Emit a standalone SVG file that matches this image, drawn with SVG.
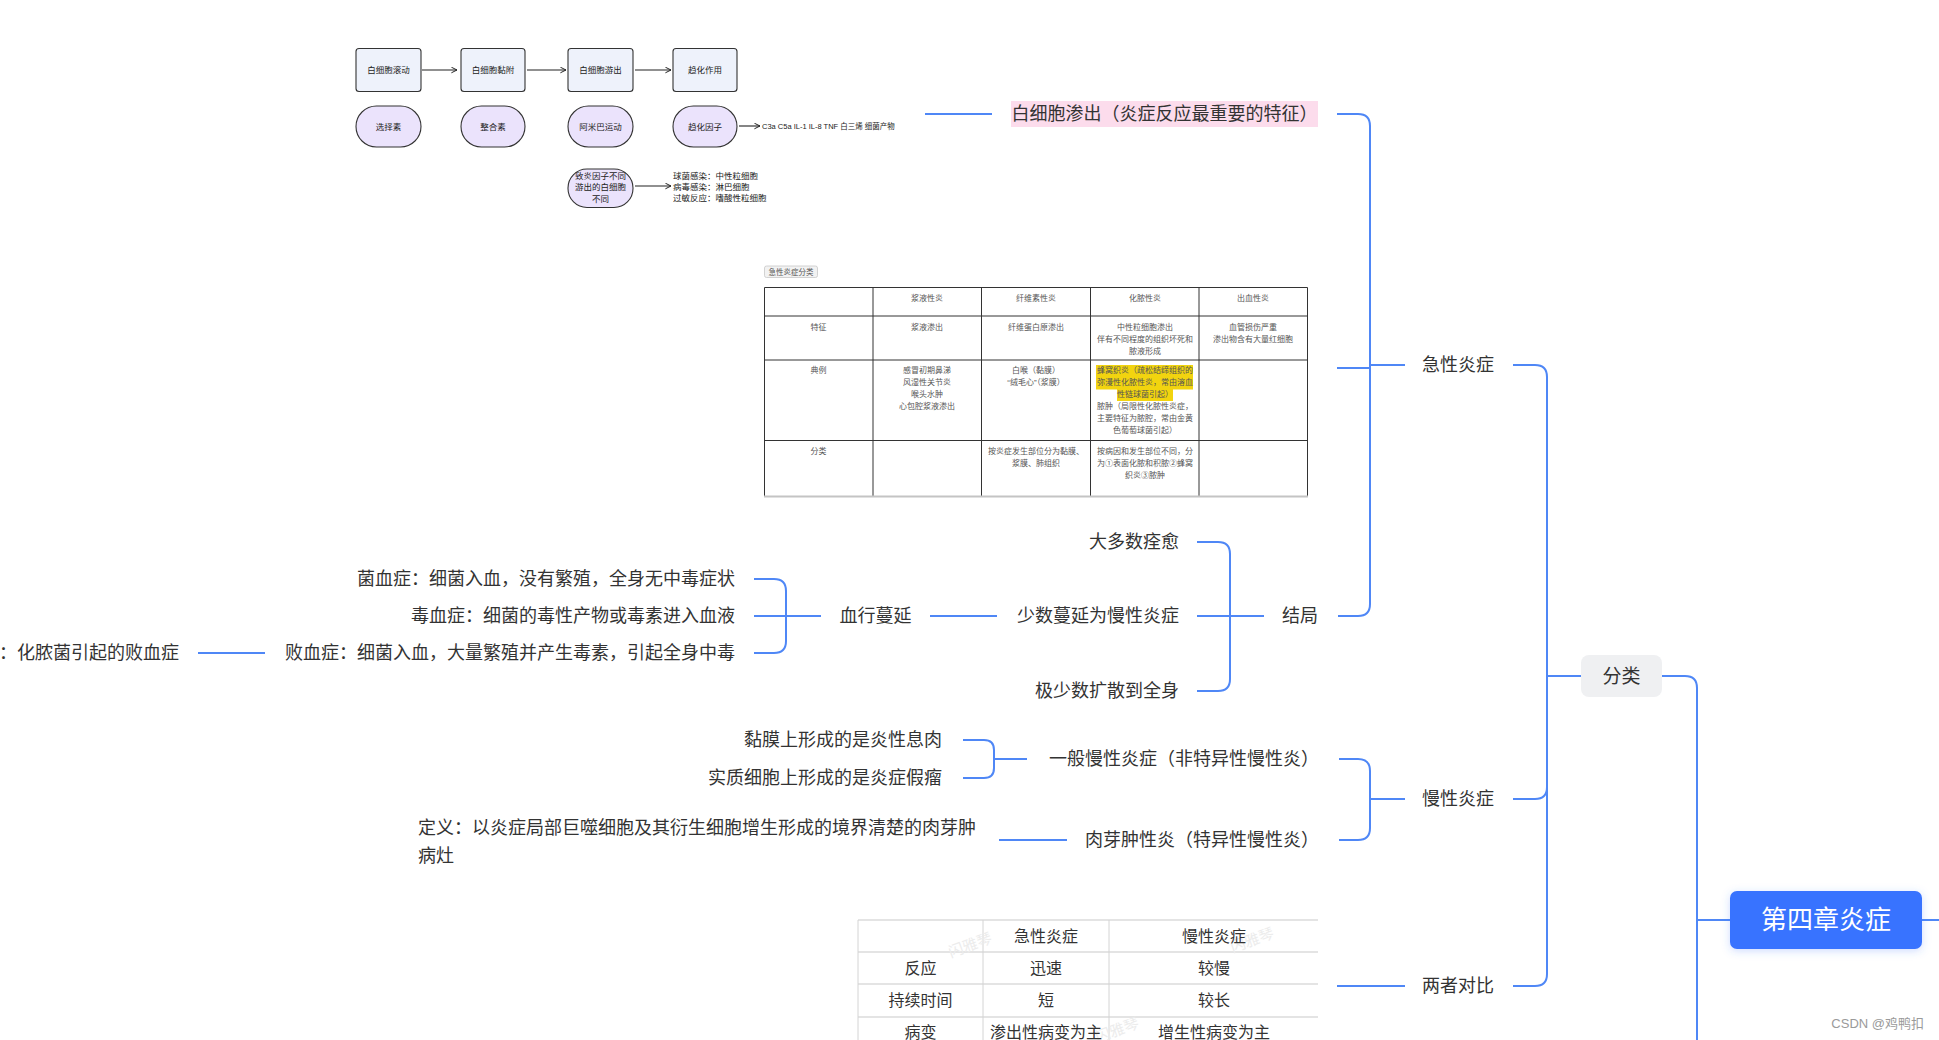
<svg xmlns="http://www.w3.org/2000/svg" width="1939" height="1040" viewBox="0 0 1939 1040">
<defs>
<style>
text{font-family:"Liberation Sans","Noto Sans CJK SC",sans-serif;dominant-baseline:central}
.t{font-size:18px;fill:#333}
.s{font-size:8.5px;fill:#222}
.tb{font-size:8px;fill:#555}
.t2{font-size:16px;fill:#333;text-anchor:middle}
.c{text-anchor:middle}
.e{text-anchor:end}
.ln{fill:none;stroke:#4f87f6;stroke-width:2}
.fl{fill:none;stroke:#222;stroke-width:1.1}
.box{fill:#eef2fb;stroke:#333;stroke-width:1.1}
.st{fill:#ebe3fc;stroke:#333;stroke-width:1.1}
.g1{stroke:#333;stroke-width:1}
.g2{stroke:#dcdcdc;stroke-width:1.5}
</style>
<marker id="arr" viewBox="0 0 10 10" refX="9" refY="5" markerWidth="7" markerHeight="7" orient="auto" markerUnits="userSpaceOnUse">
<path d="M1,1 L9,5 L1,9" fill="none" stroke="#222" stroke-width="1.4"/>
</marker>
<filter id="sh" x="-20%" y="-40%" width="140%" height="180%">
<feDropShadow dx="0" dy="2" stdDeviation="4" flood-color="#3873ff" flood-opacity="0.25"/>
</filter>
</defs>
<rect width="1939" height="1040" fill="#ffffff"/>

<g id="connectors">
<path class="ln" d="M1582,676 H1547 V377 Q1547,365 1535,365 H1513"/>
<path class="ln" d="M1582,676 H1547 V787 Q1547,799 1535,799 H1513"/>
<path class="ln" d="M1582,676 H1547 V974 Q1547,986 1535,986 H1513"/>
<path class="ln" d="M1662,676 H1685 Q1697,676 1697,688 V1040"/>
<path class="ln" d="M1697,920 H1730"/>
<path class="ln" d="M1922,920 H1939"/>
<path class="ln" d="M1405,365 H1370 V126 Q1370,114 1358,114 H1337"/>
<path class="ln" d="M1370,368 H1337"/>
<path class="ln" d="M1405,365 H1370 V604 Q1370,616 1358,616 H1338"/>
<path class="ln" d="M1405,799 H1370 V771 Q1370,759 1358,759 H1339"/>
<path class="ln" d="M1405,799 H1370 V828 Q1370,840 1358,840 H1339"/>
<path class="ln" d="M1405,986 H1337"/>
<path class="ln" d="M992,114 H925"/>
<path class="ln" d="M1264,616 H1230 V554 Q1230,542 1218,542 H1197"/>
<path class="ln" d="M1264,616 H1197"/>
<path class="ln" d="M1264,616 H1230 V679 Q1230,691 1218,691 H1197"/>
<path class="ln" d="M997,616 H930"/>
<path class="ln" d="M821,616 H786 V591 Q786,579 774,579 H754"/>
<path class="ln" d="M821,616 H754"/>
<path class="ln" d="M821,616 H786 V641 Q786,653 774,653 H754"/>
<path class="ln" d="M265,653 H198"/>
<path class="ln" d="M1027,759 H994 V750 Q994,740 984,740 H963"/>
<path class="ln" d="M1027,759 H994 V768 Q994,778 984,778 H963"/>
<path class="ln" d="M1067,840 H999"/>
</g>

<g id="root">
<rect x="1730" y="891" width="192" height="58" rx="7" fill="#3873ff" filter="url(#sh)"/>
<text x="1826" y="920" class="c" style="font-size:26px;fill:#fff">第四章炎症</text>
</g>
<g id="fenlei">
<rect x="1581" y="655" width="81" height="42" rx="8" fill="#eff0f2"/>
<text x="1621.5" y="676" class="c" style="font-size:19px;fill:#333">分类</text>
</g>
<g id="jixing"><text x="1458" y="365" class="t c">急性炎症</text></g>
<g id="manxing"><text x="1458" y="799" class="t c">慢性炎症</text></g>
<g id="duibi"><text x="1458" y="986" class="t c">两者对比</text></g>

<g id="shenchu">
<rect x="1011" y="101" width="307" height="26" fill="#fcdcec"/>
<text x="1164.5" y="114" class="t c">白细胞渗出（炎症反应最重要的特征）</text>
</g>

<g id="jieju"><text x="1300" y="616" class="t c">结局</text></g>
<g id="quyu"><text x="1179" y="542" class="t e">大多数痊愈</text></g>
<g id="manyan"><text x="1179" y="616" class="t e">少数蔓延为慢性炎症</text></g>
<g id="kuosan"><text x="1179" y="691" class="t e">极少数扩散到全身</text></g>
<g id="xuexing"><text x="875.5" y="616" class="t c">血行蔓延</text></g>
<g id="junxue"><text x="735" y="579" class="t e">菌血症：细菌入血，没有繁殖，全身无中毒症状</text></g>
<g id="duxue"><text x="735" y="616" class="t e">毒血症：细菌的毒性产物或毒素进入血液</text></g>
<g id="baixue"><text x="735" y="653" class="t e">败血症：细菌入血，大量繁殖并产生毒素，引起全身中毒</text></g>
<g id="nongdu"><text x="179" y="653" class="t e">：化脓菌引起的败血症</text></g>

<g id="yiban"><text x="1319" y="759" class="t e">一般慢性炎症（非特异性慢性炎）</text></g>
<g id="ximou"><text x="942" y="740" class="t e">黏膜上形成的是炎性息肉</text></g>
<g id="jialiu"><text x="942" y="778" class="t e">实质细胞上形成的是炎症假瘤</text></g>
<g id="rouya"><text x="1319" y="840" class="t e">肉芽肿性炎（特异性慢性炎）</text></g>
<g id="dingyi">
<text x="418" y="828" class="t">定义：以炎症局部巨噬细胞及其衍生细胞增生形成的境界清楚的肉芽肿</text>
<text x="418" y="856" class="t">病灶</text>
</g>

<g id="flowchart">
<rect class="box" x="356" y="48.5" width="65" height="43" rx="3"/>
<rect class="box" x="461" y="48.5" width="64" height="43" rx="3"/>
<rect class="box" x="568" y="48.5" width="65" height="43" rx="3"/>
<rect class="box" x="673" y="48.5" width="64" height="43" rx="3"/>
<text class="s c" x="388.5" y="70">白细胞滚动</text>
<text class="s c" x="493" y="70">白细胞黏附</text>
<text class="s c" x="600.5" y="70">白细胞游出</text>
<text class="s c" x="705" y="70">趋化作用</text>
<rect class="st" x="356" y="106" width="65" height="41" rx="20.5"/>
<rect class="st" x="461" y="106" width="64" height="41" rx="20.5"/>
<rect class="st" x="568" y="106" width="65" height="41" rx="20.5"/>
<rect class="st" x="673" y="106" width="64" height="41" rx="20.5"/>
<text class="s c" x="388.5" y="126.5">选择素</text>
<text class="s c" x="493" y="126.5">整合素</text>
<text class="s c" x="600.5" y="126.5">阿米巴运动</text>
<text class="s c" x="705" y="126.5">趋化因子</text>
<rect class="st" x="568" y="169" width="65" height="38.5" rx="19"/>
<text class="s c" x="600.5" y="175.5">致炎因子不同</text>
<text class="s c" x="600.5" y="187">游出的白细胞</text>
<text class="s c" x="600.5" y="199">不同</text>
<path class="fl" d="M422,70 H457" marker-end="url(#arr)"/>
<path class="fl" d="M527,70 H566" marker-end="url(#arr)"/>
<path class="fl" d="M635,70 H671" marker-end="url(#arr)"/>
<path class="fl" d="M739,126 H760" marker-end="url(#arr)"/>
<path class="fl" d="M635,186 H671" marker-end="url(#arr)"/>
<text class="s" x="762" y="126.5" style="font-size:7.5px">C3a C5a IL-1 IL-8 TNF 白三烯 细菌产物</text>
<text class="s" x="673" y="175.5">球菌感染：中性粒细胞</text>
<text class="s" x="673" y="186.5">病毒感染：淋巴细胞</text>
<text class="s" x="673" y="197.5">过敏反应：嗜酸性粒细胞</text>
</g>

<g id="table1">
<rect x="764.5" y="266" width="53" height="11.5" rx="2" fill="#f2f2f2" stroke="#c8c8c8" stroke-width="0.8"/>
<text x="791" y="272" class="c" style="font-size:7.5px;fill:#555">急性炎症分类</text>
<rect x="1096" y="365" width="97" height="24.5" fill="#f2d40f"/>
<rect x="1117" y="389" width="56" height="12" fill="#f2d40f"/>
<path class="g1" d="M764.5,287.5 H1307.5 M764.5,287.5 V496 M1307.5,287.5 V496 M764.5,316 H1307.5 M764.5,360 H1307.5 M764.5,440.5 H1307.5 M873,287.5 V496 M981.5,287.5 V496 M1090.5,287.5 V496 M1199,287.5 V496"/>
<path d="M764,496.5 H1308" stroke="#c4c4c4" stroke-width="2"/>
<g class="tb c">
<text x="927" y="298.5">浆液性炎</text>
<text x="1036" y="298.5">纤维素性炎</text>
<text x="1145" y="298.5">化脓性炎</text>
<text x="1253" y="298.5">出血性炎</text>
<text x="818.5" y="327.7">特征</text>
<text x="818.5" y="370.7">典例</text>
<text x="818.5" y="451.7">分类</text>
<text x="927" y="327.7">浆液渗出</text>
<text x="1036" y="327.7">纤维蛋白原渗出</text>
<text x="1145" y="327.7">中性粒细胞渗出</text>
<text x="1145" y="339.5">伴有不同程度的组织坏死和</text>
<text x="1145" y="351.3">脓液形成</text>
<text x="1253" y="327.7">血管损伤严重</text>
<text x="1253" y="339.5">渗出物含有大量红细胞</text>
<text x="927" y="370.7">感冒初期鼻涕</text>
<text x="927" y="382.6">风湿性关节炎</text>
<text x="927" y="394.5">喉头水肿</text>
<text x="927" y="406.4">心包腔浆液渗出</text>
<text x="1036" y="370.7">白喉（黏膜）</text>
<text x="1036" y="382.6">“绒毛心”（浆膜）</text>
<text x="1145" y="370.7">蜂窝织炎（疏松结缔组织的</text>
<text x="1145" y="382.6">弥漫性化脓性炎，常由溶血</text>
<text x="1145" y="394.5">性链球菌引起）</text>
<text x="1145" y="406.4">脓肿（局限性化脓性炎症，</text>
<text x="1145" y="418.3">主要特征为脓腔，常由金黄</text>
<text x="1145" y="430.2">色葡萄球菌引起）</text>
<text x="1036" y="451.7">按炎症发生部位分为黏膜、</text>
<text x="1036" y="463.6">浆膜、肺组织</text>
<text x="1145" y="451.7">按病因和发生部位不同，分</text>
<text x="1145" y="463.6">为①表面化脓和积脓②蜂窝</text>
<text x="1145" y="475.5">织炎③脓肿</text>
</g>
</g>

<g id="table2">
<path class="g2" d="M858,920 H1318 M858,952 H1318 M858,984 H1318 M858,1017 H1318"/>
<path d="M858,920 V1040 M983,920 V1040 M1109,920 V1040" stroke="#d4d4d4" stroke-width="1"/>
<g fill="#ececec" style="font-size:15px">
<text x="970" y="945" class="c" transform="rotate(-20 970 945)">闪雅琴</text>
<text x="1252" y="940" class="c" transform="rotate(-20 1252 940)">闪雅琴</text>
<text x="1117" y="1030" class="c" transform="rotate(-20 1117 1030)">闪雅琴</text>
</g>
<text class="t2" x="1046" y="936">急性炎症</text>
<text class="t2" x="1214" y="936">慢性炎症</text>
<text class="t2" x="920.5" y="968">反应</text>
<text class="t2" x="1046" y="968">迅速</text>
<text class="t2" x="1214" y="968">较慢</text>
<text class="t2" x="920.5" y="1000">持续时间</text>
<text class="t2" x="1046" y="1000">短</text>
<text class="t2" x="1214" y="1000">较长</text>
<text class="t2" x="920.5" y="1032">病变</text>
<text class="t2" x="1046" y="1032">渗出性病变为主</text>
<text class="t2" x="1214" y="1032">增生性病变为主</text>
</g>

<text x="1924" y="1023" class="e" style="font-size:13px;fill:#9a9a9a">CSDN @鸡鸭扣</text>
</svg>
